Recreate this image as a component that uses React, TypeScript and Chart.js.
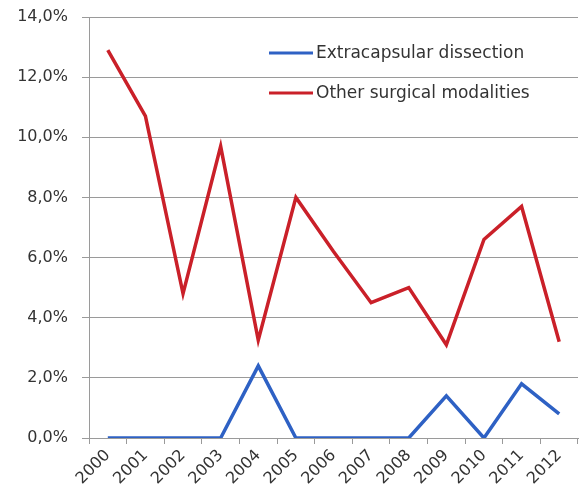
import React, { useEffect, useRef } from "react";
import { Chart, registerables } from "chart.js";

Chart.register(...registerables);

const years = ["2000", "2001", "2002", "2003", "2004", "2005", "2006", "2007", "2008", "2009", "2010", "2011", "2012"];
const extracapsular = [0, 0, 0, 0, 2.4, 0, 0, 0, 0, 1.4, 0, 1.8, 0.8];
const otherModalities = [12.9, 10.7, 4.8, 9.7, 3.25, 8.0, 6.2, 4.5, 5.0, 3.1, 6.6, 7.7, 3.2];
const seriesLabels = ["Extracapsular dissection", "Other surgical modalities"];
const seriesColors = ["#2E61C4", "#CA2029"];

const FONT = "'DejaVu Sans', sans-serif";
const TEXT = "#333333";
const GRID = "#9a9a9a";

const legendPlugin = {
  id: "insideLegend",
  afterDraw(chart: any) {
    const ctx = chart.ctx;
    ctx.save();
    chart.data.datasets.forEach((ds: any, i: number) => {
      const y = 53 + i * 40;
      ctx.strokeStyle = ds.borderColor;
      ctx.lineWidth = 3;
      ctx.beginPath();
      ctx.moveTo(269, y);
      ctx.lineTo(313, y);
      ctx.stroke();
      ctx.fillStyle = TEXT;
      ctx.font = `17px ${FONT}`;
      ctx.textBaseline = "middle";
      ctx.textAlign = "left";
      ctx.fillText(ds.label, 316, y + 1);
    });
    ctx.restore();
  },
};

export default function App() {
  const ref = useRef<HTMLCanvasElement>(null);
  useEffect(() => {
    if (!ref.current) return;
    const chart = new Chart(ref.current, {
      type: "line",
      data: {
        labels: years,
        datasets: [
          {
            label: seriesLabels[0],
            data: extracapsular,
            borderColor: seriesColors[0],
            backgroundColor: seriesColors[0],
            borderWidth: 3.5,
            pointRadius: 0,
            tension: 0,
          },
          {
            label: seriesLabels[1],
            data: otherModalities,
            borderColor: seriesColors[1],
            backgroundColor: seriesColors[1],
            borderWidth: 3.5,
            pointRadius: 0,
            tension: 0,
          },
        ],
      },
      options: {
        animation: false,
        responsive: false,
        maintainAspectRatio: false,
        layout: { padding: { top: 17, right: 2, left: 0, bottom: 0 } },
        plugins: {
          legend: { display: false },
          tooltip: { enabled: false },
        },
        scales: {
          x: {
            type: "category",
            offset: true,
            grid: {
              offset: true,
              drawOnChartArea: false,
              drawTicks: true,
              tickLength: 6,
              color: GRID,
            },
            border: { color: GRID, width: 1 },
            ticks: {
              color: TEXT,
              font: { family: FONT, size: 16 },
              minRotation: 45,
              maxRotation: 45,
              padding: 2,
              autoSkip: false,
            },
            afterFit: (s: any) => {
              s.height = 63;
            },
          },
          y: {
            min: 0,
            max: 14,
            grid: { color: GRID, tickLength: 7 },
            border: { color: GRID, width: 1 },
            ticks: {
              stepSize: 2,
              color: TEXT,
              padding: 14,
              font: { family: FONT, size: 16 },
              callback: (v: any) => Number(v).toFixed(1).replace(".", ",") + "%",
            },
            afterFit: (s: any) => {
              s.width = 89;
              s.paddingTop = 0;
              s.paddingBottom = 0;
            },
          },
        },
      },
      plugins: [legendPlugin],
    } as any);
    return () => chart.destroy();
  }, []);
  return (
    <div style={{ position: "fixed", left: 0, top: 0, width: 580, height: 501, background: "#fff" }}>
      <canvas ref={ref} width={580} height={501} style={{ width: 580, height: 501 }} />
    </div>
  );
}
